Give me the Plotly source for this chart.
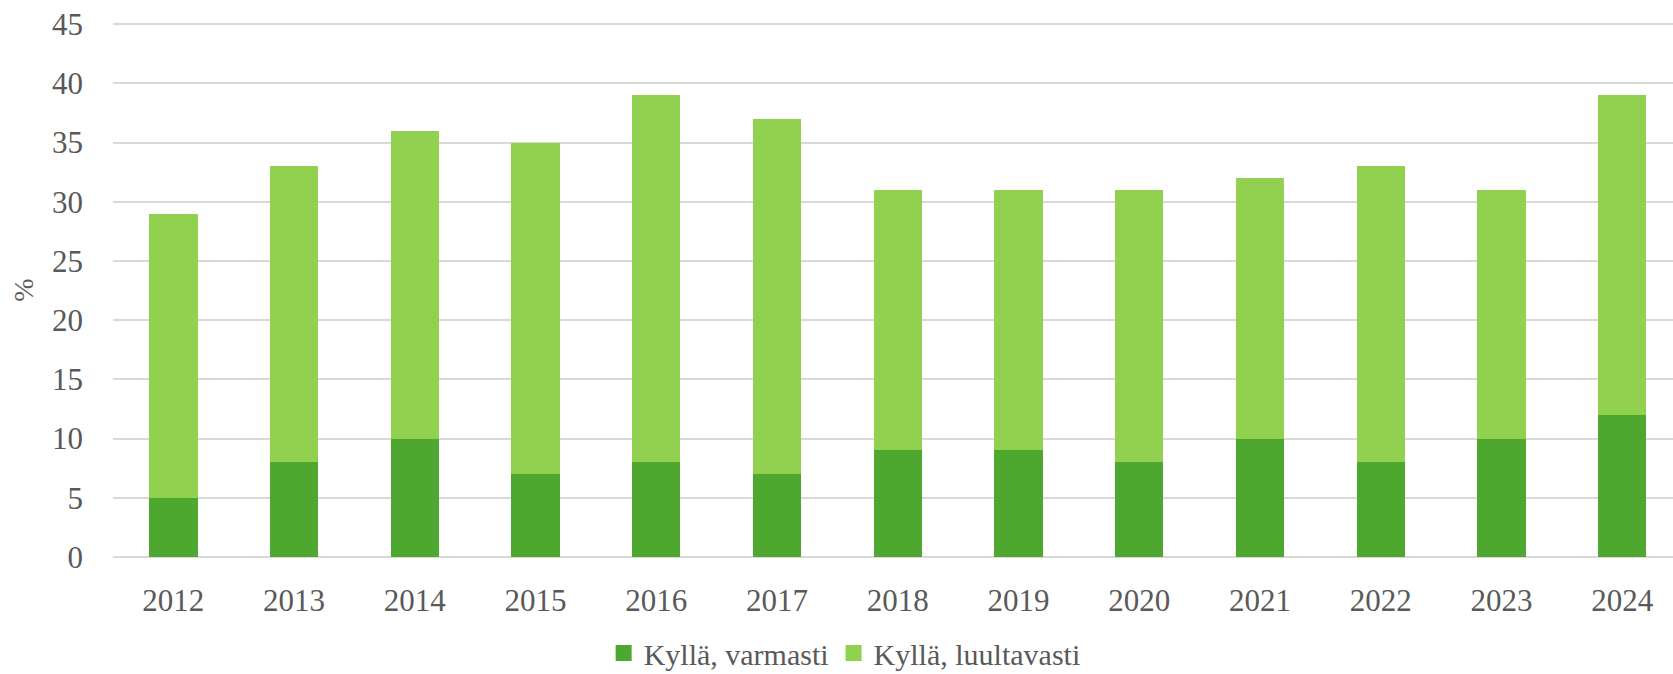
import plotly.graph_objects as go

years = ["2012", "2013", "2014", "2015", "2016", "2017", "2018", "2019", "2020", "2021", "2022", "2023", "2024"]
varmasti = [5, 8, 10, 7, 8, 7, 9, 9, 8, 10, 8, 10, 12]
luultavasti = [24, 25, 26, 28, 31, 30, 22, 22, 23, 22, 25, 21, 27]
y_ticks = [0, 5, 10, 15, 20, 25, 30, 35, 40, 45]
series_names = ["Kyllä, varmasti", "Kyllä, luultavasti"]
series_colors = ["#4EA72E", "#92D050"]

font_family = '"Liberation Serif", "Times New Roman", serif'
text_color = "#595959"

fig = go.Figure()
for vals, name, color in zip([varmasti, luultavasti], series_names, series_colors):
    fig.add_trace(go.Bar(x=years, y=vals, name=name, legendgroup=name, showlegend=False,
                         marker=dict(color=color, line=dict(width=0)), width=0.4))
for name, color in zip(series_names, series_colors):
    fig.add_trace(go.Scatter(x=[None], y=[None], mode="markers", name=name, legendgroup=name,
                             marker=dict(symbol="square", size=20, color=color), showlegend=True))

fig.update_layout(
    barmode="stack",
    width=1673, height=674,
    margin=dict(l=113, r=0, t=23, b=117, autoexpand=False),
    plot_bgcolor="white", paper_bgcolor="white",
    font=dict(family=font_family, color=text_color, size=31),
    showlegend=True,
    legend=dict(orientation="h", x=0.469, xanchor="center", y=-0.18, yanchor="middle",
                font=dict(size=30, color=text_color, family=font_family),
                itemsizing="trace", traceorder="normal", itemwidth=30),
    xaxis=dict(type="category", range=[-0.5, 12.42], showgrid=False, showline=False,
               ticks="", tickfont=dict(size=31, family=font_family), ticklabelstandoff=22),
    yaxis=dict(range=[0, 45.1], tickvals=y_ticks, showgrid=True, gridcolor="#d9d9d9",
               gridwidth=1.5, zeroline=True, zerolinecolor="#d9d9d9", zerolinewidth=1.5,
               tickfont=dict(size=31, family=font_family), ticklabelstandoff=29,
               title=dict(text="%", font=dict(size=28, family=font_family), standoff=10)),
)

fig.write_html("out.html", config={"displayModeBar": False},
               post_script="document.body.style.margin='0';document.body.style.overflow='hidden';")
